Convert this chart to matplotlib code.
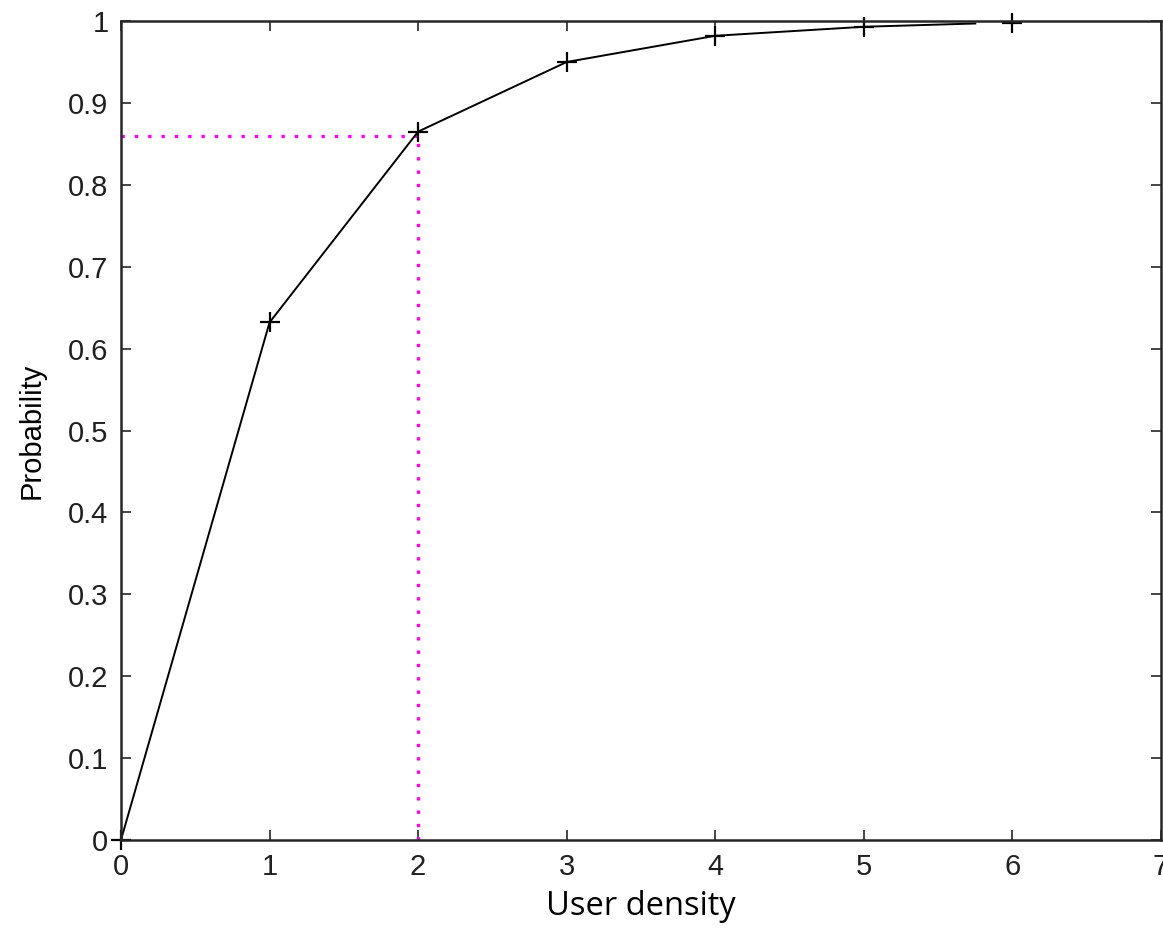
import matplotlib
matplotlib.use("Agg")
import matplotlib.pyplot as plt
from matplotlib import font_manager

# Cumulative probability of user density
density_marks = [0, 1, 2, 3, 4, 5, 6]
prob_marks = [0.0, 0.632, 0.865, 0.950, 0.982, 0.993, 0.998]

density_curve = [0, 1, 2, 3, 4, 5, 5.75]
prob_curve = [0.0, 0.632, 0.865, 0.950, 0.982, 0.993, 0.997]

# Reading guide at density 2
guide_x = 2
guide_y = 0.86

x_ticks = [0, 1, 2, 3, 4, 5, 6, 7]
y_ticks = [0, 0.1, 0.2, 0.3, 0.4, 0.5, 0.6, 0.7, 0.8, 0.9, 1]
y_tick_labels = ["0", "0.1", "0.2", "0.3", "0.4", "0.5", "0.6", "0.7", "0.8", "0.9", "1"]

available = {f.name for f in font_manager.fontManager.ttflist}
tick_family = ["Liberation Sans Narrow"] if "Liberation Sans Narrow" in available else ["Liberation Sans"]
tick_family = tick_family + ["DejaVu Sans"]

fig = plt.figure(figsize=(11.63, 9.31), dpi=100)
ax = fig.add_axes([0.104, 0.0977, 0.8943, 0.8797])

ax.plot([0, guide_x], [guide_y, guide_y], color="#ff00ff", linestyle=(0, (1, 3)), linewidth=2.4)
ax.plot([guide_x, guide_x], [0, guide_y], color="#ff00ff", linestyle=(0, (1, 3)), linewidth=2.4)

ax.plot(density_curve, prob_curve, color="black", linewidth=1.4)
ax.plot(density_marks, prob_marks, linestyle="none", marker="+", markersize=14,
        markeredgewidth=1.6, color="black", clip_on=False)

ax.set_xlim(0, 7)
ax.set_ylim(0, 1)
ax.set_xticks(x_ticks)
ax.set_yticks(y_ticks)
ax.set_yticklabels(y_tick_labels)

ax.tick_params(direction="in", length=7, width=1.2, top=True, right=True,
               labelsize=21, pad=9, colors="#262626")
for lbl in ax.get_xticklabels() + ax.get_yticklabels():
    lbl.set_family(tick_family)
    lbl.set_color("#202020")

for s in ax.spines.values():
    s.set_linewidth(1.8)
    s.set_color("#262626")

ax.set_xlabel("User density", family=["Open Sans", "DejaVu Sans"], fontsize=23.5, labelpad=7)
ax.set_ylabel("Probability", family=tick_family, fontsize=21, labelpad=16)

fig.savefig("out.png", dpi=100)
